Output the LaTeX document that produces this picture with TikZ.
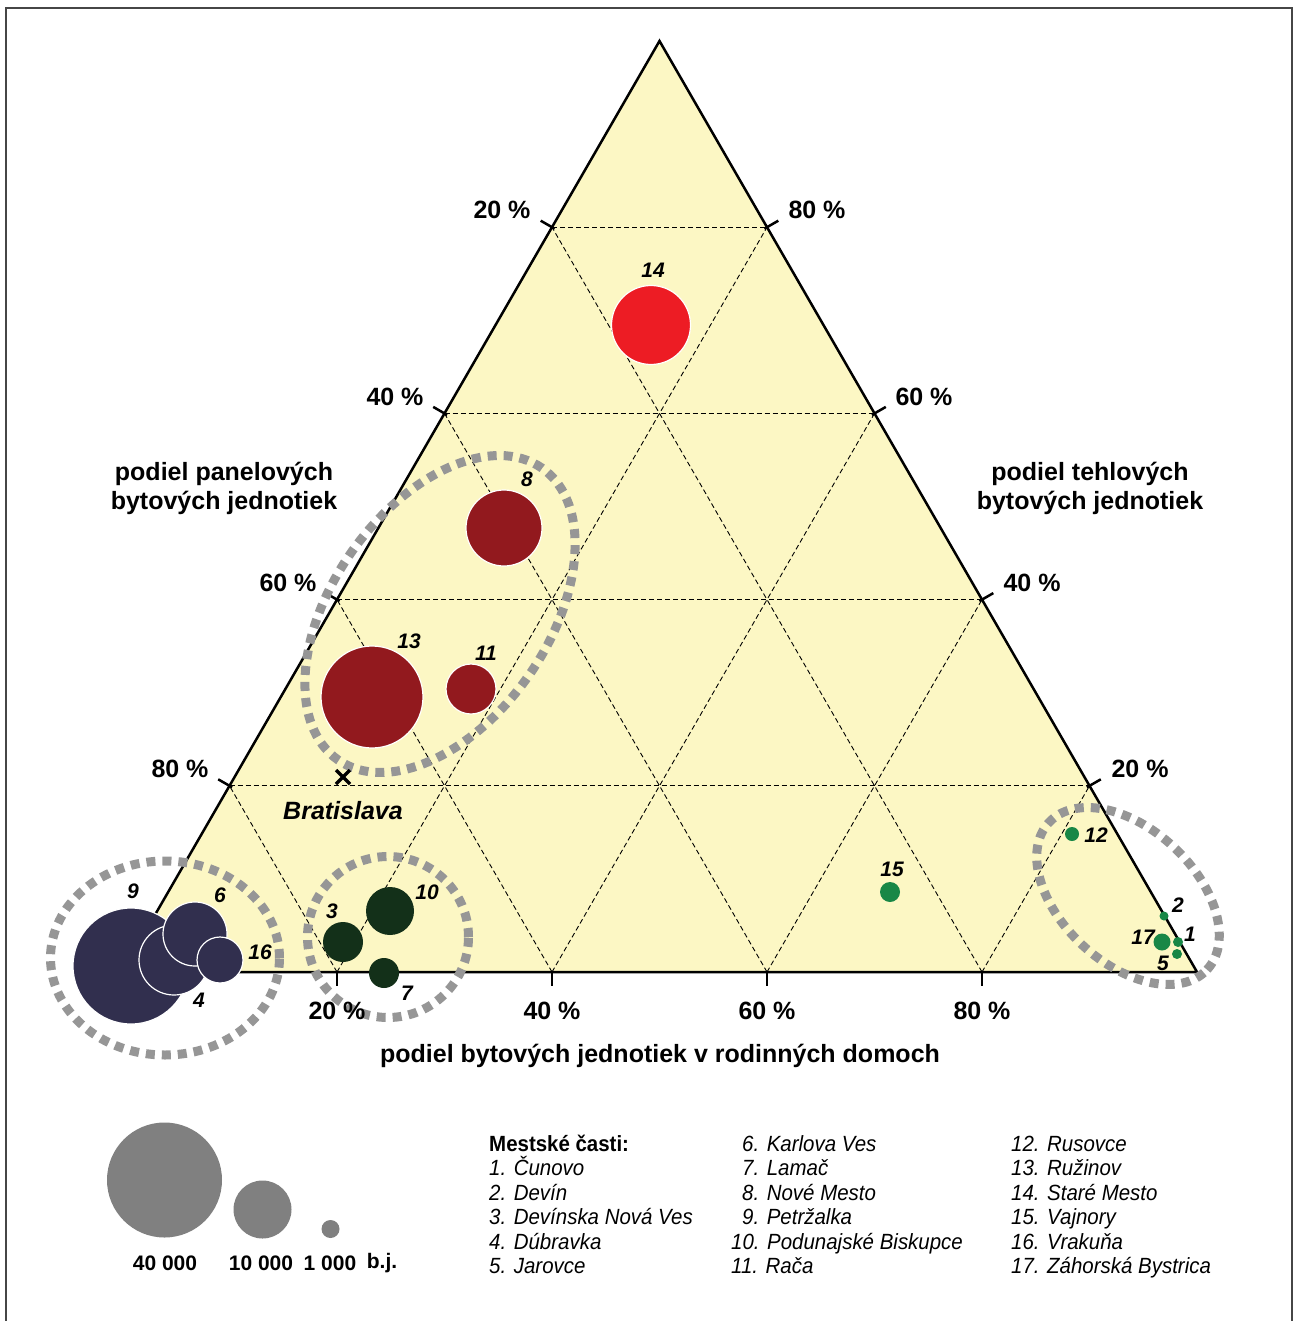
\documentclass[tikz,border=0pt]{standalone}
\usepackage{fontspec}
\setmainfont{Liberation Sans}
\newfontfamily\narrowfont[FakeStretch=0.93]{Liberation Sans}
\usetikzlibrary{shapes.geometric}
\definecolor{pale}{RGB}{252,247,196}
\definecolor{scarlet}{RGB}{237,28,36}
\definecolor{wine}{RGB}{146,25,30}
\definecolor{navy}{RGB}{49,47,78}
\definecolor{forest}{RGB}{19,48,25}
\definecolor{leaf}{RGB}{24,135,70}
\definecolor{groupgray}{RGB}{150,150,150}
\definecolor{scalegray}{RGB}{128,128,128}
\definecolor{framegray}{RGB}{70,70,70}

\begin{document}
\begin{tikzpicture}[x=1pt,y=-1pt,
	bubble/.style={circle,draw=white,line width=1.2,inner sep=0,outer sep=0},
	dot/.style={circle,draw=none,inner sep=0,outer sep=0},
	group/.style={draw=groupgray,line width=9,dash pattern=on 9pt off 7pt,inner sep=0,outer sep=0},
	gridline/.style={line width=0.9,dash pattern=on 5pt off 3pt},
	num/.style={font=\fontsize{21}{21}\selectfont\bfseries\itshape,inner sep=0},
	pct/.style={font=\fontsize{25}{25}\selectfont\bfseries,inner sep=0},
	ttl/.style={font=\fontsize{25}{29}\selectfont\bfseries,align=center,inner sep=0},
	item/.style={anchor=base west,font=\narrowfont\fontsize{22}{22}\selectfont\itshape,inner sep=0},
	size/.style={font=\fontsize{21}{21}\selectfont\bfseries,inner sep=0}]
	\useasboundingbox (0,0) rectangle (1298,1321);
	\draw[line width=2,framegray] (6,1321) -- (6,8) -- (1292,8) -- (1292,1321);

	\coordinate (A) at (122,972);
	\coordinate (B) at (1197,972);
	\coordinate (C) at (659.5,41);
	\fill[pale] (A) -- (B) -- (C) -- cycle;

	\draw[gridline] (229.5,785.8) -- (1089.5,785.8);
	\draw[gridline] (337,599.6) -- (982,599.6);
	\draw[gridline] (444.5,413.4) -- (874.5,413.4);
	\draw[gridline] (552,227.2) -- (767,227.2);
	\draw[gridline] (337,972) -- (767,227.2);
	\draw[gridline] (552,972) -- (874.5,413.4);
	\draw[gridline] (767,972) -- (982,599.6);
	\draw[gridline] (982,972) -- (1089.5,785.8);
	\draw[gridline] (337,972) -- (229.5,785.8);
	\draw[gridline] (552,972) -- (337,599.6);
	\draw[gridline] (767,972) -- (444.5,413.4);
	\draw[gridline] (982,972) -- (552,227.2);

	\draw[line width=2.5,line join=miter] (A) -- (B) -- (C) -- cycle;
	\draw[line width=2.5] (337,972) -- (337,986);
	\draw[line width=2.5] (552,972) -- (552,986);
	\draw[line width=2.5] (767,972) -- (767,986);
	\draw[line width=2.5] (982,972) -- (982,986);
	\draw[line width=2.5] (232.1,787.3) -- (218.2,779.3);
	\draw[line width=2.5] (339.6,601.1) -- (325.7,593.1);
	\draw[line width=2.5] (447.1,414.9) -- (433.2,406.9);
	\draw[line width=2.5] (554.6,228.7) -- (540.7,220.7);
	\draw[line width=2.5] (1086.9,787.3) -- (1100.8,779.3);
	\draw[line width=2.5] (979.4,601.1) -- (993.3,593.1);
	\draw[line width=2.5] (871.9,414.9) -- (885.8,406.9);
	\draw[line width=2.5] (764.4,228.7) -- (778.3,220.7);

	\node[bubble,fill=navy,minimum size=116] (9) at (131,966) {};
	\node[bubble,fill=navy,minimum size=70] (4) at (174,960) {};
	\node[bubble,fill=navy,minimum size=64] (6) at (195,934) {};
	\node[bubble,fill=navy,minimum size=46] (16) at (220,960) {};
	\node[dot,fill=forest,minimum size=40] (3) at (343,942) {};
	\node[dot,fill=forest,minimum size=48] (10) at (390,911) {};
	\node[dot,fill=forest,minimum size=30] (7) at (384,973) {};
	\node[bubble,fill=wine,minimum size=102] (13) at (372,697) {};
	\node[bubble,fill=wine,minimum size=50] (11) at (471,689) {};
	\node[bubble,fill=wine,minimum size=76] (8) at (504,528) {};
	\node[bubble,fill=scarlet,minimum size=79] (14) at (651,325) {};
	\node[dot,fill=leaf,minimum size=20] (15) at (890,892) {};
	\node[dot,fill=leaf,minimum size=14] (12) at (1072,834) {};
	\node[dot,fill=leaf,minimum size=9] (2) at (1164,916) {};
	\node[dot,fill=leaf,minimum size=17] (17) at (1162,942) {};
	\node[dot,fill=leaf,minimum size=10] (1) at (1178,942) {};
	\node[dot,fill=leaf,minimum size=10] (5) at (1177,954) {};

	\node[group,ellipse,minimum width=229,minimum height=194] (g1) at (165,958) {};
	\node[group,circle,minimum size=161] (g2) at (388,937) {};
	\node[group,ellipse,minimum width=356,minimum height=216,rotate=55] (g3) at (440,614) {};
	\node[group,ellipse,minimum width=216,minimum height=134,rotate=-43] (g4) at (1128,896) {};

	\draw[line width=3.5] (336,770) -- (350,784);
	\draw[line width=3.5] (336,784) -- (350,770);
	\node[pct,font=\fontsize{25}{25}\selectfont\bfseries\itshape] (ba) at (343,811) {Bratislava};

	\node[num] (t14) at (653,270) {14};
	\node[num] (t8) at (527,479) {8};
	\node[num] (t13) at (409,641) {13};
	\node[num] (t11) at (486,653) {11};
	\node[num] (t9) at (133,891) {9};
	\node[num] (t6) at (220,895) {6};
	\node[num] (t16) at (260,952) {16};
	\node[num] (t4) at (199,1000) {4};
	\node[num] (t3) at (332,911) {3};
	\node[num] (t10) at (427,892) {10};
	\node[num] (t7) at (407,993) {7};
	\node[num] (t15) at (892,869) {15};
	\node[num] (t12) at (1096,835) {12};
	\node[num] (t2) at (1178,905) {2};
	\node[num] (t17) at (1143,937) {17};
	\node[num] (t1) at (1190,934) {1};
	\node[num] (t5) at (1163,963) {5};

	\node[pct] (b20) at (337,1011) {20 \%};
	\node[pct] (b40) at (552,1011) {40 \%};
	\node[pct] (b60) at (767,1011) {60 \%};
	\node[pct] (b80) at (982,1011) {80 \%};
	\node[pct] (l80) at (180,769) {80 \%};
	\node[pct] (l60) at (288,583) {60 \%};
	\node[pct] (l40) at (395,397) {40 \%};
	\node[pct] (l20) at (502,210) {20 \%};
	\node[pct] (r80) at (817,210) {80 \%};
	\node[pct] (r60) at (924,397) {60 \%};
	\node[pct] (r40) at (1032,583) {40 \%};
	\node[pct] (r20) at (1140,769) {20 \%};

	\node[ttl] (panel) at (224,488) {podiel panelových\\bytových jednotiek};
	\node[ttl] (tehla) at (1090,488) {podiel tehlových\\bytových jednotiek};
	\node[ttl] (domy) at (660,1056) {podiel bytových jednotiek v rodinných domoch};

	\node[dot,fill=scalegray,minimum size=115] (s40) at (164.5,1180) {};
	\node[dot,fill=scalegray,minimum size=58] (s10) at (262.5,1209.5) {};
	\node[dot,fill=scalegray,minimum size=18] (s1) at (330.5,1229) {};
	\node[size] (n40) at (165,1263) {40 000};
	\node[size] (n10) at (261,1263) {10 000};
	\node[size] (n1) at (330,1263) {1 000};
	\node[size] (nbj) at (382,1263) {b.j.};

	\node[item,font=\narrowfont\fontsize{22}{22}\selectfont\bfseries] (m0) at (489,1151) {Mestské časti:};
	\node[item] (m1) at (489,1175) {1. Čunovo};
	\node[item] (m2) at (489,1200) {2. Devín};
	\node[item] (m3) at (489,1224) {3. Devínska Nová Ves};
	\node[item] (m4) at (489,1249) {4. Dúbravka};
	\node[item] (m5) at (489,1273) {5. Jarovce};
	\node[item] (m6) at (742,1151) {6. Karlova Ves};
	\node[item] (m7) at (742,1175) {7. Lamač};
	\node[item] (m8) at (742,1200) {8. Nové Mesto};
	\node[item] (m9) at (742,1224) {9. Petržalka};
	\node[item] (m10) at (731,1249) {10. Podunajské Biskupce};
	\node[item] (m11) at (731,1273) {11. Rača};
	\node[item] (m12) at (1011,1151) {12. Rusovce};
	\node[item] (m13) at (1011,1175) {13. Ružinov};
	\node[item] (m14) at (1011,1200) {14. Staré Mesto};
	\node[item] (m15) at (1011,1224) {15. Vajnory};
	\node[item] (m16) at (1011,1249) {16. Vrakuňa};
	\node[item] (m17) at (1011,1273) {17. Záhorská Bystrica};
\end{tikzpicture}
\end{document}
